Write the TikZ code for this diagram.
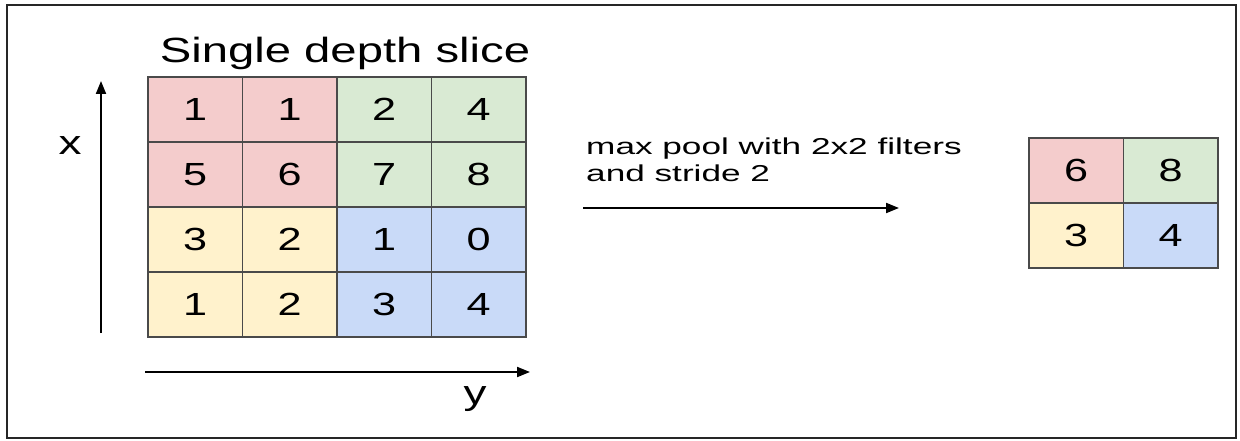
\documentclass[tikz,border=0pt]{standalone}
\usepackage{fontspec}
\setmainfont{Liberation Sans}[FakeStretch=1.35]
\newfontfamily\poolfont{Liberation Sans}[FakeStretch=1.53]
\usepackage{tikz}
\usetikzlibrary{arrows.meta, positioning}
\definecolor{q0}{HTML}{F4CCCC}
\definecolor{q1}{HTML}{D9EAD3}
\definecolor{q2}{HTML}{FFF2CC}
\definecolor{q3}{HTML}{C9DAF8}
\definecolor{gridline}{HTML}{4A4A4A}

\begin{document}
\begin{tikzpicture}[x=1pt, y=-1pt,
      cell/.style={rectangle, draw=gridline, line width=1.4pt, inner sep=0pt, outer sep=0pt,
                   minimum width=94.5pt, minimum height=65pt, font=\fontsize{32}{36}\selectfont},
      axislabel/.style={inner sep=0pt, font=\fontsize{34}{38}\selectfont},
      arr/.style={-{Triangle[length=13pt, width=10pt]}, line width=2pt, black}
    ]
      \useasboundingbox (0,0) rectangle (1240,441);
      \draw[line width=2.5pt, black!85] (7,5) rectangle (1236,438);

      % input slice
      \node[anchor=base, inner sep=0pt, font=\fontsize{35}{40}\selectfont] (title) at (345,63) {Single depth slice};
      \foreach \v [count=\k from 0] in {1,1,2,4,5,6,7,8,3,2,1,0,1,2,3,4}{
        \pgfmathtruncatemacro\row{div(\k,4)}
        \pgfmathtruncatemacro\col{mod(\k,4)}
        \pgfmathtruncatemacro\q{2*div(\row,2)+div(\col,2)}
        \node[cell, fill=q\q] (in-\row-\col) at ({148+94.5*(\col+0.5)}, {77+65*(\row+0.5)}) {\v};
      }

      % axes
      \coordinate (xfoot) at (101,333);
      \coordinate (xhead) at (101,81);
      \coordinate (yfoot) at (145,372);
      \coordinate (yhead) at (530,372);
      \draw[arr] (xfoot) -- (xhead);
      \draw[arr] (yfoot) -- (yhead);
      \node[axislabel] (xlab) at (70,146) {x};
      \node[axislabel, anchor=base] (ylab) at (475,404) {y};

      % pooling step
      \node[anchor=base west, inner sep=0pt, align=left, font=\poolfont\fontsize{23}{27}\selectfont] (pool) at (586,182)
        {max pool with 2x2 filters\\and stride 2};
      \coordinate (pfoot) at (583,208);
      \coordinate (phead) at (899,208);
      \draw[arr] (pfoot) -- (phead);

      % output
      \node[cell, fill=q0] (out-0-0) at (1076.25,170.5) {6};
      \node[cell, fill=q1] (out-0-1) at (1170.75,170.5) {8};
      \node[cell, fill=q2] (out-1-0) at (1076.25,235.5) {3};
      \node[cell, fill=q3] (out-1-1) at (1170.75,235.5) {4};
    \end{tikzpicture}
\end{document}
